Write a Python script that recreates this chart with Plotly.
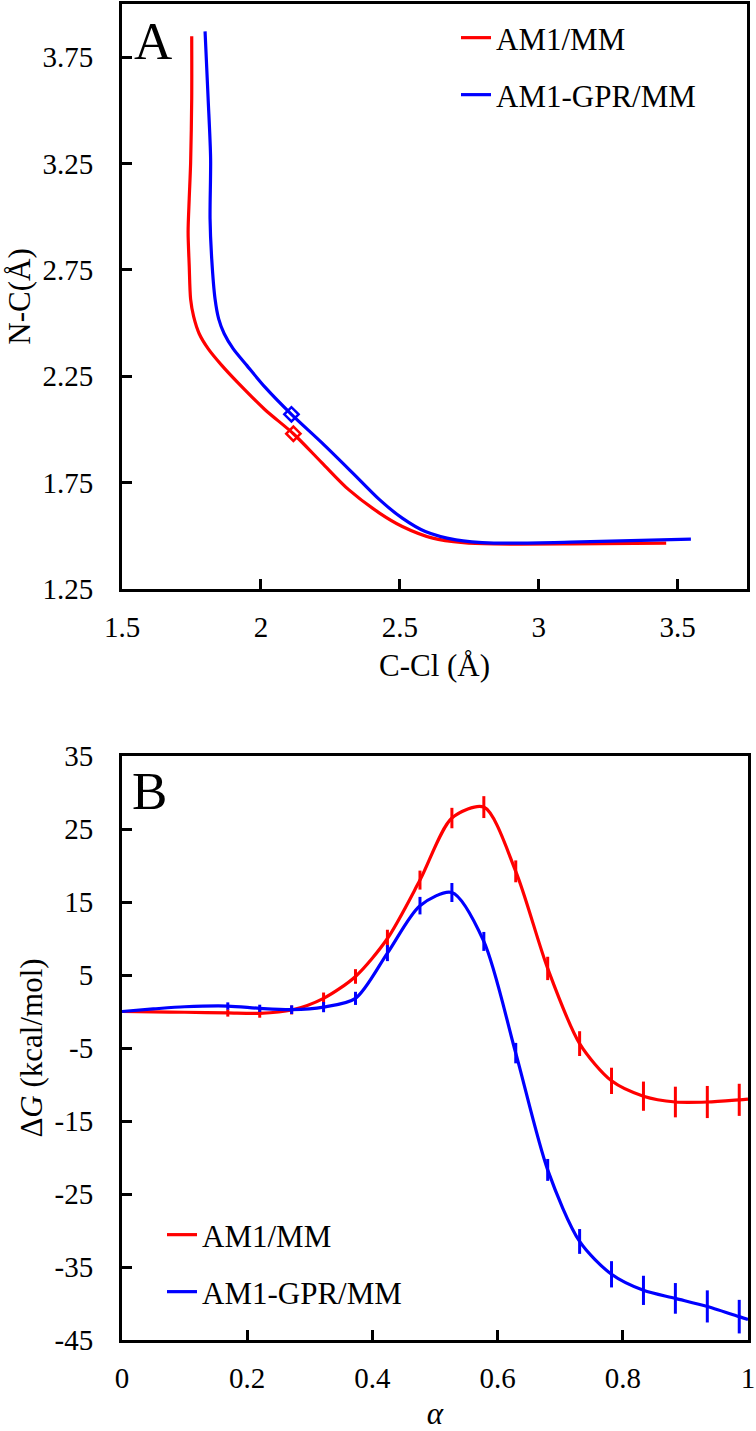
import plotly.graph_objects as go

# ---------------- Panel A data (C-Cl vs N-C) ----------------
cccl_am1 = [1.751, 1.751, 1.747, 1.742, 1.738, 1.742, 1.747, 1.758, 1.778, 1.810, 1.860, 1.917, 2.014,
            2.117, 2.220, 2.316, 2.427, 2.509, 2.619, 2.729, 2.839, 3.115, 3.459]
nc_am1 = [3.848, 3.557, 3.250, 3.085, 2.928, 2.770, 2.613, 2.530, 2.450, 2.380, 2.300, 2.220, 2.094,
          1.980, 1.843, 1.717, 1.607, 1.544, 1.489, 1.468, 1.462, 1.462, 1.466]

cccl_gpr = [1.799, 1.810, 1.819, 1.817, 1.823, 1.835, 1.848, 1.868, 1.900, 1.950, 2.014, 2.110, 2.220,
            2.330, 2.427, 2.509, 2.592, 2.702, 2.839, 3.115, 3.548]
nc_gpr = [3.871, 3.557, 3.274, 2.991, 2.802, 2.613, 2.520, 2.450, 2.380, 2.300, 2.200, 2.071, 1.937,
          1.796, 1.670, 1.583, 1.520, 1.481, 1.466, 1.470, 1.484]

ts_cccl_am1 = [2.117]
ts_nc_am1 = [1.980]
ts_cccl_gpr = [2.110]
ts_nc_gpr = [2.071]

# ---------------- Panel B data (free energy vs alpha) ----------------
alpha = [0.0, 0.05, 0.10, 0.169, 0.220, 0.271, 0.322, 0.373, 0.424, 0.476, 0.527, 0.578,
         0.629, 0.680, 0.731, 0.782, 0.833, 0.884, 0.935, 0.986, 1.0]
dg_am1 = [0.0, -0.05, -0.1, -0.2, -0.25, 0.2, 1.8, 4.8, 10.0, 18.0, 26.5, 28.0,
          19.2, 5.9, -4.4, -9.5, -11.6, -12.4, -12.4, -12.1, -12.0]
err_am1 = [0, 0, 0, 0.5, 0.6, 0.6, 0.8, 1.0, 1.2, 1.3, 1.4, 1.5,
           1.5, 1.6, 1.7, 1.8, 2.0, 2.1, 2.2, 2.2, 0]
dg_gpr = [0.0, 0.35, 0.65, 0.75, 0.43, 0.25, 0.6, 1.8, 8.0, 14.5, 16.3, 9.6,
          -5.7, -21.7, -31.5, -36.0, -38.2, -39.3, -40.4, -41.8, -42.2]
err_gpr = [0, 0, 0, 0.5, 0.5, 0.6, 0.7, 0.9, 1.1, 1.2, 1.3, 1.3,
           1.4, 1.5, 1.7, 1.8, 2.0, 2.1, 2.2, 2.3, 0]

xa_ticks = [1.5, 2, 2.5, 3, 3.5]
xa_text = ["1.5", "2", "2.5", "3", "3.5"]
ya_ticks = [1.25, 1.75, 2.25, 2.75, 3.25, 3.75]
ya_text = ["1.25", "1.75", "2.25", "2.75", "3.25", "3.75"]
xb_ticks = [0, 0.2, 0.4, 0.6, 0.8, 1]
xb_text = ["0", "0.2", "0.4", "0.6", "0.8", "1"]
yb_ticks = [35, 25, 15, 5, -5, -15, -25, -35, -45]
yb_text = ["35", "25", "15", "5", "-5", "-15", "-25", "-35", "-45"]

RED = "#FF0000"
BLUE = "#0000FF"
FONT = "Liberation Serif, Times New Roman, serif"
W, H = 756, 1431
TICK_SIZE = 29
TITLE_SIZE = 31
LEG_SIZE = 31

fig = go.Figure()

# Panel A
fig.add_trace(go.Scatter(x=cccl_am1, y=nc_am1, mode="lines", name="AM1/MM",
                         line=dict(color=RED, width=3.2, shape="spline", smoothing=0.8),
                         xaxis="x", yaxis="y", legend="legend"))
fig.add_trace(go.Scatter(x=cccl_gpr, y=nc_gpr, mode="lines", name="AM1-GPR/MM",
                         line=dict(color=BLUE, width=3.2, shape="spline", smoothing=0.8),
                         xaxis="x", yaxis="y", legend="legend2"))
fig.add_trace(go.Scatter(x=ts_cccl_am1, y=ts_nc_am1, mode="markers", showlegend=False,
                         marker=dict(symbol="diamond-open", size=11, color=RED, line=dict(width=2.5, color=RED)),
                         xaxis="x", yaxis="y"))
fig.add_trace(go.Scatter(x=ts_cccl_gpr, y=ts_nc_gpr, mode="markers", showlegend=False,
                         marker=dict(symbol="diamond-open", size=11, color=BLUE, line=dict(width=2.5, color=BLUE)),
                         xaxis="x", yaxis="y"))

# Panel B
fig.add_trace(go.Scatter(x=alpha, y=dg_am1, mode="lines", name="AM1/MM",
                         line=dict(color=RED, width=3.2, shape="spline", smoothing=0.8),
                         error_y=dict(type="data", array=err_am1, visible=True, color=RED, thickness=3, width=0),
                         xaxis="x2", yaxis="y2", legend="legend3"))
fig.add_trace(go.Scatter(x=alpha, y=dg_gpr, mode="lines", name="AM1-GPR/MM",
                         line=dict(color=BLUE, width=3.2, shape="spline", smoothing=0.8),
                         error_y=dict(type="data", array=err_gpr, visible=True, color=BLUE, thickness=3, width=0),
                         xaxis="x2", yaxis="y2", legend="legend4"))

ax_common = dict(showgrid=False, zeroline=False, showline=True, linecolor="black", linewidth=3,
                 mirror=True, ticks="inside", ticklen=10, tickwidth=3, tickcolor="black",
                 automargin=False, ticklabeloverflow="allow",
                 tickfont=dict(family=FONT, size=TICK_SIZE, color="black"))

pxA = (122 / W, 747 / W)
pyA = (1 - 589 / H, 1 - 4 / H)
pxB = (122 / W, 748 / W)
pyB = (1 - 1340 / H, 1 - 756 / H)

leg_common = dict(xanchor="left", yanchor="middle", bgcolor="rgba(0,0,0,0)",
                  font=dict(family=FONT, size=LEG_SIZE, color="black"))

fig.update_layout(
    width=W, height=H,
    margin=dict(l=0, r=0, t=0, b=0),
    paper_bgcolor="white", plot_bgcolor="white",
    font=dict(family=FONT, size=TICK_SIZE, color="black"),
    xaxis=dict(domain=list(pxA), range=[1.5, 3.75], tickvals=xa_ticks, ticktext=xa_text,
               anchor="y", ticklabelstandoff=10,
               title=dict(text="C-Cl (Å)", standoff=13, font=dict(family=FONT, size=TITLE_SIZE)), **ax_common),
    yaxis=dict(domain=list(pyA), range=[1.25, 4.0], tickvals=ya_ticks, ticktext=ya_text,
               anchor="x", ticklabelstandoff=20,
               title=dict(text="N-C(Å)", standoff=3, font=dict(family=FONT, size=TITLE_SIZE)), **ax_common),
    xaxis2=dict(domain=list(pxB), range=[0, 1], tickvals=xb_ticks, ticktext=xb_text,
                anchor="y2", ticklabelstandoff=10,
                title=dict(text="<i>α</i>", standoff=15, font=dict(family=FONT, size=TITLE_SIZE)), **ax_common),
    yaxis2=dict(domain=list(pyB), range=[-45, 35], tickvals=yb_ticks, ticktext=yb_text,
                anchor="x2", ticklabelstandoff=20,
                title=dict(text="Δ<i>G</i> (kcal/mol)", standoff=3, font=dict(family=FONT, size=TITLE_SIZE)), **ax_common),
    legend=dict(x=456 / W, y=1 - 38 / H, **leg_common),
    legend2=dict(x=456 / W, y=1 - 95 / H, **leg_common),
    legend3=dict(x=162 / W, y=1 - 1235 / H, **leg_common),
    legend4=dict(x=162 / W, y=1 - 1292 / H, **leg_common),
    annotations=[
        dict(text="A", xref="paper", yref="paper", x=132 / W, y=1 - 41 / H, xanchor="left", yanchor="middle",
             showarrow=False, font=dict(family=FONT, size=53, color="black")),
        dict(text="B", xref="paper", yref="paper", x=130 / W, y=1 - 791 / H, xanchor="left", yanchor="middle",
             showarrow=False, font=dict(family=FONT, size=53, color="black")),
    ],
)

fig.write_html("out.html", config={"displayModeBar": False},
               post_script="document.body.style.margin='0';document.body.style.overflow='hidden';")
